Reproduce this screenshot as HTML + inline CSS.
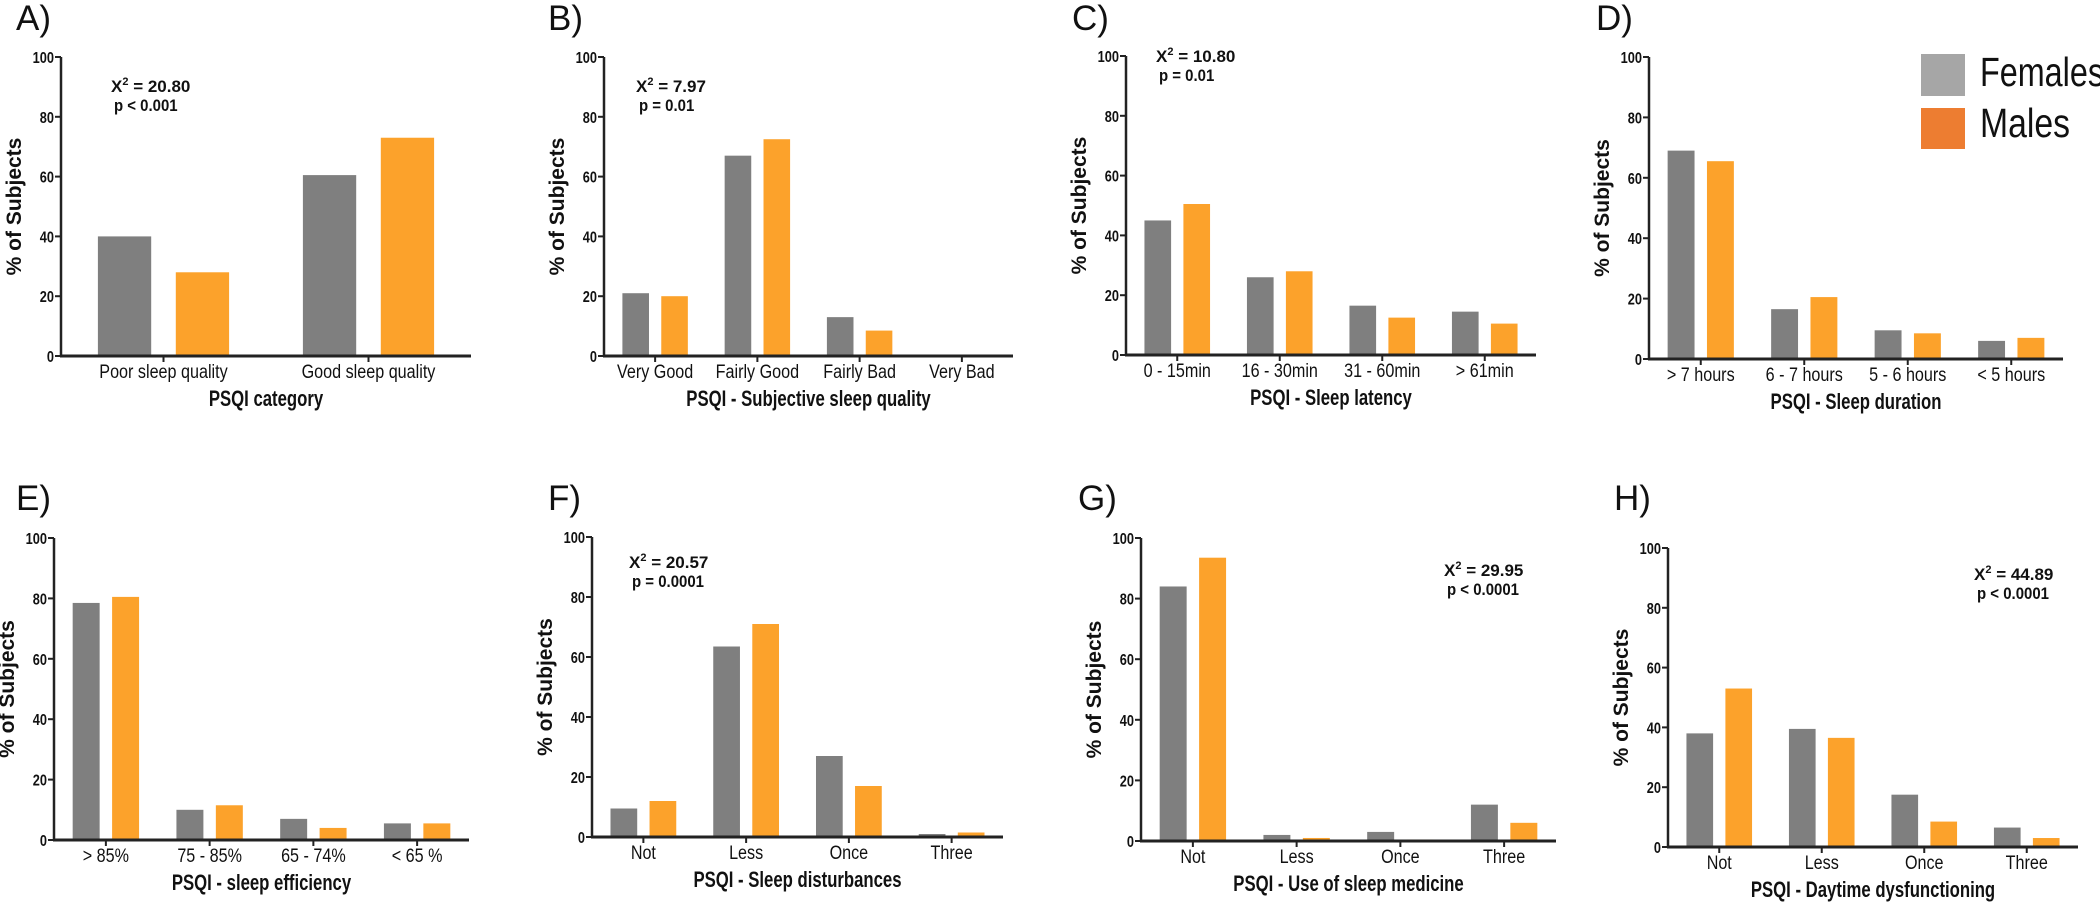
<!DOCTYPE html>
<html><head><meta charset="utf-8"><style>
html,body{margin:0;padding:0;background:#fff;}
svg{display:block;font-family:"Liberation Sans",sans-serif;}
.tick{font-weight:bold;font-size:16px;fill:#111;}
.cat{font-size:19px;fill:#111;}
.ttl{font-weight:bold;font-size:22px;fill:#111;}
.ytl{font-weight:bold;font-size:21px;fill:#111;}
.plab{font-size:35px;fill:#111;}
.ann{font-weight:bold;font-size:17px;fill:#111;}
</style></head><body>
<svg id="fig" width="2100" height="902" viewBox="0 0 2100 902" xmlns="http://www.w3.org/2000/svg">
<g>
<rect x="1921" y="54" width="44" height="42" fill="#a6a6a6"/>
<text x="1980" y="86" font-size="41" fill="#111" textLength="124" lengthAdjust="spacingAndGlyphs">Females</text>
<rect x="1921" y="108" width="44" height="41" fill="#ed7d31"/>
<text x="1980" y="137" font-size="41" fill="#111" textLength="90" lengthAdjust="spacingAndGlyphs">Males</text>
</g>
</svg>
<script>
// Data arrays
const catsA = ["Poor sleep quality","Good sleep quality"];
const femA = [40, 60.5];
const malA = [28, 73];
const catsB = ["Very Good","Fairly Good","Fairly Bad","Very Bad"];
const femB = [21, 67, 13, 0];
const malB = [20, 72.5, 8.5, 0];
const catsC = ["0 - 15min","16 - 30min","31 - 60min","> 61min"];
const femC = [45, 26, 16.5, 14.5];
const malC = [50.5, 28, 12.5, 10.5];
const catsD = ["> 7 hours","6 - 7 hours","5 - 6 hours","< 5 hours"];
const femD = [69, 16.5, 9.5, 6];
const malD = [65.5, 20.5, 8.5, 7];
const catsE = ["> 85%","75 - 85%","65 - 74%","< 65 %"];
const femE = [78.5, 10, 7, 5.5];
const malE = [80.5, 11.5, 4, 5.5];
const catsF = ["Not","Less","Once","Three"];
const femF = [9.5, 63.5, 27, 1];
const malF = [12, 71, 17, 1.5];
const catsG = ["Not","Less","Once","Three"];
const femG = [84, 2, 3, 12];
const malG = [93.5, 1, 0.5, 6];
const catsH = ["Not","Less","Once","Three"];
const femH = [38, 39.5, 17.5, 6.5];
const malH = [53, 36.5, 8.5, 3];
const yTicks = [0, 20, 40, 60, 80, 100];

const NS = "http://www.w3.org/2000/svg";
const svg = document.getElementById('fig');
function mk(tag, attrs, parent, txt){
  const e = document.createElementNS(NS, tag);
  for (const k in attrs) e.setAttribute(k, attrs[k]);
  if (txt !== undefined) e.textContent = txt;
  parent.appendChild(e);
  return e;
}
function squeeze(el, f){
  const w = el.getComputedTextLength();
  if (w > 0) { el.setAttribute('textLength', (w * f).toFixed(1)); el.setAttribute('lengthAdjust', 'spacingAndGlyphs'); }
}
const panels = [
 {id:"a",lab:"A)",lx:16,ly:30,x0:61,xr:471,y0:356,y100:57,cats:catsA,f:femA,m:malA,title:"PSQI category",ann:["X","= 20.80","p < 0.001"],ax:111,ay:92},
 {id:"b",lab:"B)",lx:548,ly:30,x0:604,xr:1013,y0:356,y100:57,cats:catsB,f:femB,m:malB,title:"PSQI - Subjective sleep quality",ann:["X","= 7.97","p = 0.01"],ax:636,ay:92},
 {id:"c",lab:"C)",lx:1072,ly:30,x0:1126,xr:1536,y0:355,y100:56,cats:catsC,f:femC,m:malC,title:"PSQI - Sleep latency",ann:["X","= 10.80","p = 0.01"],ax:1156,ay:62},
 {id:"d",lab:"D)",lx:1596,ly:30,x0:1649,xr:2063,y0:359,y100:57,cats:catsD,f:femD,m:malD,title:"PSQI - Sleep duration",ann:null},
 {id:"e",lab:"E)",lx:16,ly:510,x0:54,xr:469,y0:840,y100:538,cats:catsE,f:femE,m:malE,title:"PSQI - sleep efficiency",ann:null},
 {id:"f",lab:"F)",lx:548,ly:510,x0:592,xr:1003,y0:837,y100:537,cats:catsF,f:femF,m:malF,title:"PSQI - Sleep disturbances",ann:["X","= 20.57","p = 0.0001"],ax:629,ay:568},
 {id:"g",lab:"G)",lx:1078,ly:510,x0:1141,xr:1556,y0:841,y100:538,cats:catsG,f:femG,m:malG,title:"PSQI - Use of sleep medicine",ann:["X","= 29.95","p < 0.0001"],ax:1444,ay:576},
 {id:"h",lab:"H)",lx:1614,ly:510,x0:1668,xr:2078,y0:847,y100:548,cats:catsH,f:femH,m:malH,title:"PSQI - Daytime dysfunctioning",ann:["X","= 44.89","p < 0.0001"],ax:1974,ay:580}
];
panels.forEach(p => {
  const g = mk('g', {}, svg);
  
  
  const yS = v => p.y0 - (p.y0 - p.y100) * v / 100;
  const n = p.cats.length, gw = (p.xr - p.x0) / n;
  const xC = i => p.x0 + (i + 0.5) * gw;
  const bw = gw * 0.26, off = gw * 0.19;
  const lab = mk('text', {x:p.lx, y:p.ly, class:'plab'}, g, p.lab);
  
  
  p.cats.forEach((c, i) => {
    const vf = p.f[i], vm = p.m[i];
    const rf = mk('rect', {x:xC(i)-off-bw/2, y:yS(vf), width:bw, height:Math.max(0,p.y0-yS(vf)), fill:'#7f7f7f'}, g);
    
    
    const rm = mk('rect', {x:xC(i)+off-bw/2, y:yS(vm), width:bw, height:Math.max(0,p.y0-yS(vm)), fill:'#fca22b'}, g);
    
    
    mk('line', {x1:xC(i), x2:xC(i), y1:p.y0, y2:p.y0+6, stroke:'#222', 'stroke-width':2}, g);
    const ct = mk('text', {x:xC(i), y:p.y0+22, class:'cat', 'text-anchor':'middle'}, g, c);
    
    
    squeeze(ct, 0.85);
  });
  const ya = mk('line', {x1:p.x0, x2:p.x0, y1:p.y100, y2:p.y0+1, stroke:'#222', 'stroke-width':2.5}, g);
  
  
  const xa = mk('line', {x1:p.x0-1, x2:p.xr, y1:p.y0, y2:p.y0, stroke:'#222', 'stroke-width':3}, g);
  
  
  yTicks.forEach(t => {
    mk('line', {x1:p.x0-6, x2:p.x0, y1:yS(t), y2:yS(t), stroke:'#222', 'stroke-width':2}, g);
    const tl = mk('text', {x:p.x0-7, y:yS(t)+6, class:'tick', 'text-anchor':'end'}, g, String(t));
    
    
    squeeze(tl, 0.8);
  });
  const yc = (p.y0 + p.y100) / 2, tx = p.x0 - 47;
  const yt = mk('text', {x:tx, y:yc, class:'ytl', 'text-anchor':'middle', transform:'rotate(-90 '+tx+' '+yc+') translate(0 7)'}, g, '% of Subjects');
  
  
  const xt = mk('text', {x:(p.x0+p.xr)/2, y:p.y0+50, class:'ttl', 'text-anchor':'middle'}, g, p.title);
  
  
  squeeze(xt, 0.76);
  if (p.ann) {
    const a = mk('text', {x:p.ax, y:p.ay, class:'ann'}, g);
    
    
    mk('tspan', {}, a, p.ann[0]);
    mk('tspan', {dy:-7, 'font-size':11}, a, '2');
    mk('tspan', {dy:7}, a, ' ' + p.ann[1]);
    const b = mk('text', {x:p.ax+3, y:p.ay+19, class:'ann'}, g, p.ann[2]);
    
    
    squeeze(b, 0.88);
  }
});
</script>
</body></html>
